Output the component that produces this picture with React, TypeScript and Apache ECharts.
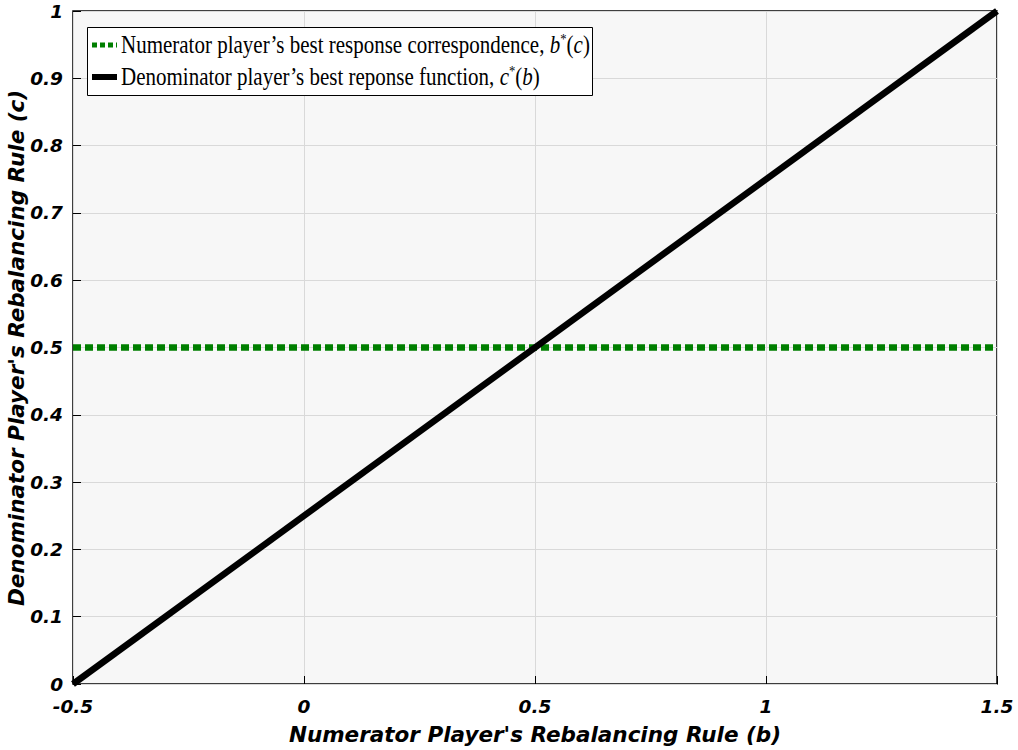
import React, { useEffect, useRef } from "react";
import * as echarts from "echarts";

const xTicks = [-0.5, 0, 0.5, 1, 1.5];
const numeratorBR: [number, number][] = [[-0.5, 0.5], [1.5, 0.5]];
const denominatorBR: [number, number][] = [[-0.5, 0], [1.5, 1]];
const seriesNames = [
  "Numerator player\u2019s best response correspondence, ",
  "Denominator player\u2019s best reponse function, ",
];
const mathParts = [
  ["b", "c"],
  ["c", "b"],
];
const seriesColors = ["#007f00", "#000000"];
const yAxisTitle = "Denominator Player's Rebalancing Rule (c)";
const xAxisTitle = "Numerator Player's Rebalancing Rule (b)";

export default function App() {
  const ref = useRef<HTMLDivElement>(null);
  useEffect(() => {
    const chart = echarts.init(ref.current!, null, { renderer: "svg" });
    const tickFont = {
      fontFamily: "DejaVu Sans",
      fontWeight: "bold" as const,
      fontStyle: "italic" as const,
      fontSize: 18.5,
      color: "#000",
    };
    const serif = "Liberation Serif";
    const rich = {
      t: { fontFamily: serif, fontSize: 25, fill: "#000", color: "#000" },
      i: { fontFamily: serif, fontSize: 25, fontStyle: "italic", fill: "#000", color: "#000" },
      s: { fontFamily: serif, fontSize: 15, fill: "#000", color: "#000", verticalAlign: "top" },
    };
    const legendText = (i: number) => {
      const m = mathParts[i];
      return `{t|${seriesNames[i]}}{i|${m[0]}}{s|*}{t|(}{i|${m[1]}}{t|)}`;
    };
    const legendRows = [45, 77];
    chart.setOption({
      animation: false,
      backgroundColor: "#fff",
      grid: {
        left: 73,
        top: 11,
        right: 21,
        bottom: 66,
        containLabel: false,
        outerBoundsMode: "none",
        show: true,
        backgroundColor: "#f7f7f7",
        borderColor: "#000",
        borderWidth: 1.5,
      },
      xAxis: {
        type: "value",
        min: -0.5,
        max: 1.5,
        interval: 0.5,
        name: xAxisTitle,
        nameLocation: "middle",
        nameGap: 39,
        nameTextStyle: { ...tickFont, fontSize: 21.5 },
        axisLine: { show: false, onZero: false },
        axisTick: { show: true, inside: true, length: 8, lineStyle: { color: "#000" } },
        splitLine: { show: true, lineStyle: { color: "#d9d9d9", width: 1 } },
        axisLabel: {
          ...tickFont,
          margin: 13,
          formatter: (v: number) => (xTicks.includes(v) ? String(v) : ""),
        },
      },
      yAxis: {
        type: "value",
        min: 0,
        max: 1,
        interval: 0.1,
        axisLine: { show: false, onZero: false },
        axisTick: { show: true, inside: true, length: 8, lineStyle: { color: "#000" } },
        splitLine: { show: true, lineStyle: { color: "#d9d9d9", width: 1 } },
        axisLabel: {
          ...tickFont,
          margin: 10,
          formatter: (v: number) => String(Math.round(v * 10) / 10),
        },
      },
      graphic: [
        {
          type: "text",
          x: 16,
          y: 348,
          rotation: Math.PI / 2,
          style: {
            text: yAxisTitle,
            align: "center",
            verticalAlign: "middle",
            font: "italic bold 21.5px 'DejaVu Sans'",
            fill: "#000",
          },
        },
        {
          type: "rect",
          shape: { x: 87.5, y: 27.5, width: 505, height: 68 },
          style: { fill: "#fff", stroke: "#000", lineWidth: 1 },
          z: 100,
        },
        {
          type: "line",
          shape: { x1: 92, y1: legendRows[0], x2: 117, y2: legendRows[0] },
          style: { stroke: seriesColors[0], lineWidth: 5, lineDash: [5, 3] },
          z: 101,
        },
        {
          type: "line",
          shape: { x1: 92, y1: legendRows[1], x2: 117, y2: legendRows[1] },
          style: { stroke: seriesColors[1], lineWidth: 6 },
          z: 101,
        },
        ...[0, 1].map((i) => ({
          type: "text",
          x: 121,
          y: legendRows[i] - 1,
          scaleX: 0.84,
          z: 101,
          style: {
            text: legendText(i),
            verticalAlign: "middle",
            align: "left",
            rich,
          },
        })),
      ],
      series: [
        {
          name: seriesNames[0],
          type: "line",
          data: numeratorBR,
          showSymbol: false,
          symbol: "none",
          lineStyle: { color: seriesColors[0], width: 6.5, type: [8, 4] },
          z: 3,
        },
        {
          name: seriesNames[1],
          type: "line",
          data: denominatorBR,
          showSymbol: false,
          symbol: "none",
          lineStyle: { color: seriesColors[1], width: 6.5 },
          z: 4,
        },
      ],
    });
    return () => chart.dispose();
  }, []);
  return (
    <div
      ref={ref}
      style={{ position: "absolute", left: 0, top: 0, width: 1018, height: 750 }}
    />
  );
}
